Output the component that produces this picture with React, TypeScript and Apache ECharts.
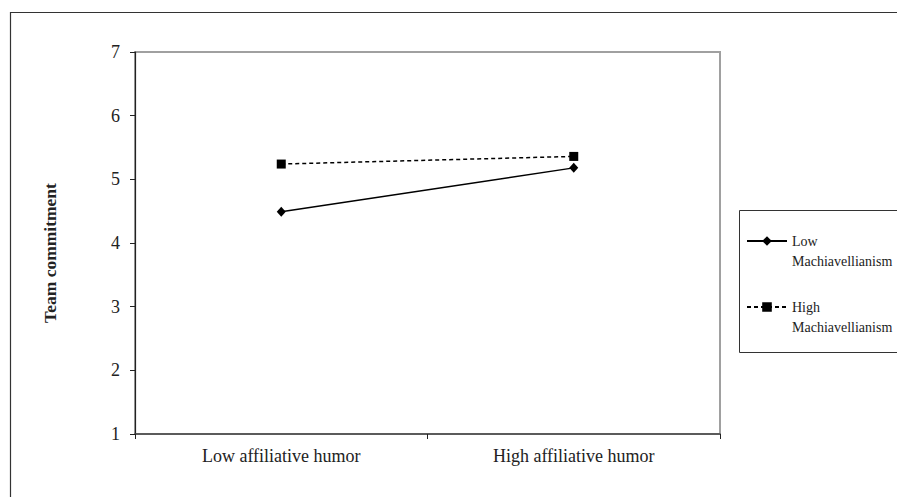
import React, { useEffect, useRef } from "react";
import * as echarts from "echarts";

const categories = ["Low affiliative humor", "High affiliative humor"];
const lowMach = [4.49, 5.18];
const highMach = [5.24, 5.36];
const seriesNames = ["Low Machiavellianism", "High Machiavellianism"];
const legendLines: Record<string, string> = {
  "Low Machiavellianism": "\nLow\nMachiavellianism",
  "High Machiavellianism": "\nHigh\nMachiavellianism",
};
const yAxisTitle = "Team commitment";

const FONT = "Liberation Serif";

export default function App() {
  const ref = useRef<HTMLDivElement>(null);
  useEffect(() => {
    if (!ref.current) return;
    const chart = echarts.init(ref.current, null, { renderer: "svg" });
    chart.setOption({
      animation: false,
      backgroundColor: "#ffffff",
      textStyle: { fontFamily: FONT },
      grid: {
        left: 135,
        right: 177,
        top: 52,
        bottom: 63,
        show: true,
        borderColor: "#a0a0a0",
        borderWidth: 2,
        backgroundColor: "transparent",
      },
      graphic: [
        {
          type: "rect",
          shape: { x: 10.5, y: 12.5, width: 1000, height: 1000 },
          style: { fill: "none", stroke: "#333333", lineWidth: 1.2 },
          silent: true,
          z: -10,
        },
        {
          type: "rect",
          shape: { x: 739.5, y: 210.5, width: 300, height: 142 },
          style: { fill: "none", stroke: "#333333", lineWidth: 1 },
          silent: true,
          z: -5,
        },
      ],
      legend: {
        orient: "vertical",
        left: 746,
        top: 211,
        padding: 0,
        itemGap: 6,
        itemWidth: 40,
        itemHeight: 12,
        data: seriesNames,
        formatter: (name: string) => legendLines[name] ?? name,
        textStyle: {
          fontFamily: FONT,
          fontSize: 14,
          lineHeight: 20,
          color: "#222",
        },
      },
      xAxis: {
        type: "category",
        data: categories,
        boundaryGap: true,
        axisLine: { lineStyle: { color: "#444", width: 1.6 } },
        axisTick: { show: true, length: 5, lineStyle: { color: "#222" } },
        axisLabel: {
          fontFamily: FONT,
          fontSize: 18,
          color: "#222",
          margin: 13,
        },
        splitLine: { show: false },
      },
      yAxis: {
        type: "value",
        min: 1,
        max: 7,
        interval: 1,
        name: yAxisTitle,
        nameLocation: "middle",
        nameGap: 76,
        nameRotate: 90,
        nameTextStyle: {
          fontFamily: FONT,
          fontSize: 17.5,
          fontWeight: "bold",
          color: "#222",
          padding: [0, 20, 0, 0],
        },
        axisLine: { show: true, lineStyle: { color: "#222", width: 1.2 } },
        axisTick: { show: true, length: 5, lineStyle: { color: "#222" } },
        axisLabel: {
          fontFamily: FONT,
          fontSize: 18,
          color: "#222",
          margin: 15,
        },
        splitLine: { show: false },
      },
      series: [
        {
          name: seriesNames[0],
          type: "line",
          data: lowMach,
          symbol: "diamond",
          symbolSize: [9, 10],
          itemStyle: { color: "#000" },
          lineStyle: { color: "#000", width: 1.5, type: "solid" },
        },
        {
          name: seriesNames[1],
          type: "line",
          data: highMach,
          symbol: "rect",
          symbolSize: 9,
          itemStyle: { color: "#000" },
          lineStyle: { color: "#000", width: 1.5, type: [4, 3] },
        },
      ],
    });
    return () => chart.dispose();
  }, []);
  return (
    <div
      ref={ref}
      style={{ position: "fixed", left: 0, top: 0, width: 897, height: 497 }}
    />
  );
}
